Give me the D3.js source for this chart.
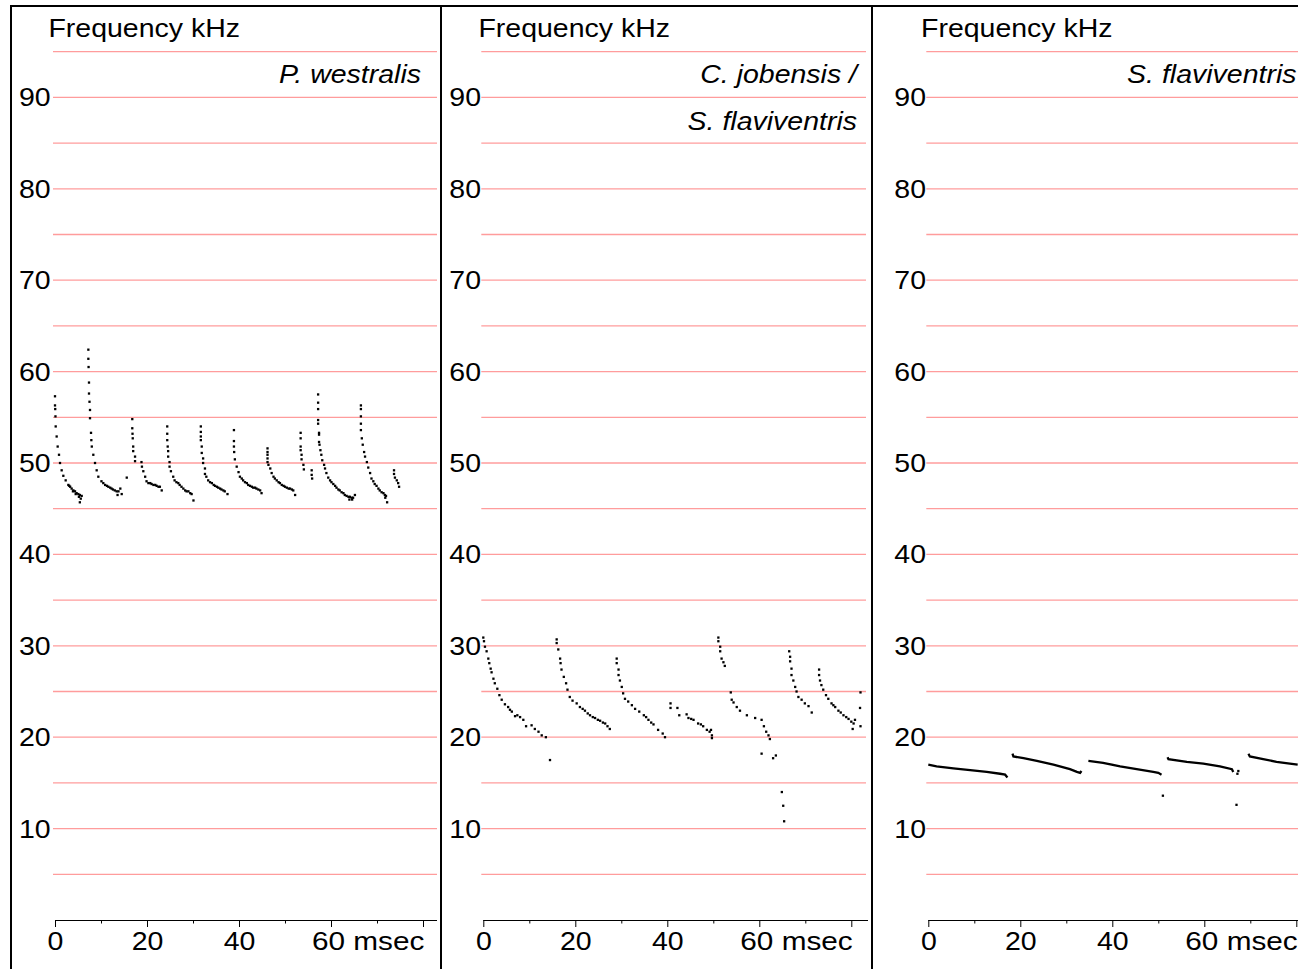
<!DOCTYPE html>
<html><head><meta charset="utf-8">
<script src="https://cdn.jsdelivr.net/npm/d3@7"></script>
<style>
html,body{margin:0;padding:0;background:#fff;}
svg{display:block;}
text{font-family:"Liberation Sans", Arial, sans-serif;fill:#000;}
</style></head><body>
<svg id="chart" width="1298" height="969"></svg>
<script>
// ---------------- DATA ----------------
const yAxisTitle = "Frequency kHz";
const yTickValues = [10, 20, 30, 40, 50, 60, 70, 80, 90];
const gridValues = [5, 10, 15, 20, 25, 30, 35, 40, 45, 50, 55, 60, 65, 70, 75, 80, 85, 90, 95];
const xMajorTicks = [0, 20, 40, 60, 80];
const xMinorTicks = [10, 30, 50, 70];
const xTickValues = [0, 20, 40, 60];
const xTickLabels = ["0", "20", "40", "60 msec"];
const panelSpecies = [["P. westralis"], ["C. jobensis /", "S. flaviventris"], ["S. flaviventris"]];

// [msec, kHz] — panel 1: P. westralis
const westralisCalls = [
  [[0.0,57.3],[0.0,56.3],[0.05,55.9],[0.1,55.1],[0.15,54.0],[0.36,52.9],[0.58,51.8],[0.87,50.9],[1.09,50.0],[1.45,49.2],[1.81,48.6],[2.32,48.1],[2.9,47.6],[3.1,47.5],[3.3,47.4],[3.62,47.2],[3.9,46.9],[4.0,47.0],[4.35,46.9],[4.5,46.6],[4.7,46.7],[5.07,46.6],[5.2,46.3],[5.4,46.5],[5.8,46.4],[5.4,45.7],[5.6,46.1]],
  [[7.25,62.4],[7.25,61.4],[7.3,60.5],[7.39,58.8],[7.39,57.6],[7.5,56.7],[7.61,55.8],[7.61,54.9],[7.83,53.3],[7.9,52.5],[8.0,51.8],[8.33,50.9],[8.7,50.0],[9.06,49.2],[9.42,48.5],[10.1,48.0],[10.5,47.8],[10.9,47.6],[11.3,47.5],[11.6,47.4],[12.0,47.3],[12.3,47.2],[12.6,47.1],[13.0,47.0],[13.4,46.9],[13.8,46.9],[14.2,47.2],[14.5,46.6],[13.6,46.5]],
  [[15.6,48.4]],
  [[16.8,54.8],[16.8,53.8],[16.85,53.2],[16.9,52.7],[17.0,51.8],[17.0,51.3],[17.4,50.7],[17.4,50.2],[18.8,50.1],[18.9,49.6],[19.2,49.1],[19.6,48.5],[19.9,48.0],[20.3,47.8],[20.7,47.8],[21.0,47.7],[21.4,47.6],[21.8,47.6],[22.1,47.5],[22.5,47.4],[22.8,47.4],[23.2,47.0]],
  [[24.4,54.0],[24.4,53.2],[24.4,52.5],[24.5,51.8],[24.6,51.3],[24.6,50.7],[24.9,50.1],[24.9,49.6],[25.2,49.1],[25.7,48.5],[26.0,48.1],[26.4,47.9],[26.8,47.8],[27.1,47.6],[27.5,47.4],[27.9,47.2],[28.3,47.0],[28.6,46.9],[29.0,46.9],[29.4,46.7],[29.7,46.6],[30.1,45.9]],
  [[31.7,54.0],[31.7,53.4],[31.7,52.9],[31.7,52.5],[31.9,51.8],[31.9,51.1],[32.2,50.5],[32.2,50.0],[32.6,49.4],[32.6,48.8],[32.9,48.5],[33.3,48.1],[33.7,47.9],[34.1,47.8],[34.5,47.6],[34.8,47.5],[35.2,47.4],[35.5,47.3],[35.9,47.2],[36.2,47.1],[36.6,47.0],[36.9,46.9],[37.5,46.6]],
  [[38.9,53.6],[38.9,52.4],[38.9,51.8],[38.95,51.2],[39.1,50.4],[39.5,49.6],[39.9,49.0],[40.2,48.5],[40.6,48.3],[40.9,48.1],[41.3,47.9],[41.7,47.8],[42.0,47.6],[42.4,47.5],[42.8,47.4],[43.1,47.3],[43.5,47.3],[43.8,47.2],[44.2,47.1],[44.6,47.0],[44.9,46.7]],
  [[46.2,51.6],[46.2,51.2],[46.2,50.9],[46.2,50.5],[46.2,50.1],[46.4,49.8],[46.8,49.4],[47.1,48.9],[47.5,48.5],[47.8,48.3],[48.2,48.1],[48.6,47.9],[48.9,47.8],[49.3,47.6],[49.7,47.5],[50.0,47.4],[50.4,47.3],[50.8,47.2],[51.1,47.2],[51.5,47.1],[51.8,47.0],[52.2,46.5]],
  [[53.4,53.3],[53.4,52.7],[53.4,51.8],[53.4,51.4],[53.6,50.9],[53.6,50.4],[54.0,49.8],[54.1,49.3],[55.8,49.2],[55.8,48.7],[55.9,48.3]],
  [[57.2,57.5],[57.2,56.6],[57.2,55.9],[57.2,54.7],[57.2,54.3],[57.4,53.3],[57.4,53.1],[57.4,52.3],[57.5,52.0],[57.7,51.4],[57.9,50.9],[58.1,50.3],[58.5,49.8],[58.7,49.4],[59.0,48.9],[59.4,48.4],[59.8,48.1],[60.1,47.9],[60.5,47.7],[60.9,47.5],[61.2,47.3],[61.6,47.1],[61.9,47.0],[62.3,46.8],[62.7,46.7],[63.0,46.5],[63.4,46.4],[63.8,46.3],[64.1,46.3],[64.5,46.2],[64.8,46.2],[65.2,46.5],[64.0,46.0],[64.6,46.0]],
  [[66.5,56.3],[66.5,55.9],[66.5,55.1],[66.5,54.3],[66.5,53.6],[66.7,52.7],[66.9,52.0],[67.2,51.2],[67.4,50.7],[67.8,50.1],[68.1,49.5],[68.5,48.9],[68.8,48.3],[69.2,48.0],[69.5,47.7],[69.9,47.5],[70.3,47.2],[70.6,47.0],[71.0,46.8],[71.4,46.7],[71.7,46.5],[71.96,46.4],[72.2,45.7],[71.8,46.2]],
  [[73.7,49.2],[73.7,48.8],[73.9,48.4],[74.3,48.1],[74.6,47.8],[74.8,47.4]]
];

// panel 2: C. jobensis / S. flaviventris
const jobensisCalls = [
  [[0.0,30.9],[0.15,30.5],[0.36,29.9],[0.72,29.4],[1.09,28.6],[1.3,28.1],[1.6,27.5],[1.8,27.1],[2.2,26.4],[2.5,25.9],[3.05,25.3],[3.5,24.6],[4.0,24.1],[4.7,23.6],[5.4,23.3],[5.8,23.0],[6.2,22.8],[6.9,22.3],[7.4,22.4],[8.0,22.2],[8.7,21.9],[9.3,21.2],[10.5,21.3],[11.2,20.9],[12.0,20.6],[12.7,20.2],[13.6,20.0],[14.5,17.5]],
  [[15.95,30.7],[15.95,30.3],[16.3,29.6],[16.7,28.6],[16.8,28.1],[17.0,27.4],[17.5,26.6],[18.0,25.9],[18.3,25.2],[18.8,24.4],[19.4,24.0],[20.3,23.7],[21.0,23.3],[21.6,23.1],[22.1,22.9],[22.7,22.6],[23.2,22.4],[23.8,22.2],[24.3,22.1],[24.9,21.9],[25.4,21.8],[26.0,21.6],[26.5,21.5],[27.0,21.2],[27.5,20.9]],
  [[29.0,28.6],[29.0,28.1],[29.4,27.4],[29.4,26.8],[29.7,26.2],[30.1,25.5],[30.4,24.8],[30.8,24.2],[31.5,23.9],[32.3,23.5],[33.0,23.1],[33.9,22.8],[34.9,22.4],[35.4,22.2],[35.9,21.9],[36.5,21.6],[37.0,21.4],[38.0,20.8],[39.0,20.4],[39.5,20.0]],
  [[40.7,23.7],[40.7,23.2],[42.2,23.2],[42.6,22.4],[44.2,22.5],[44.6,22.1],[45.2,22.0],[45.7,21.9],[46.7,21.5],[47.3,21.4],[47.8,21.2],[48.6,20.8],[49.2,20.6],[49.7,20.2],[49.7,19.9],[49.5,20.8]],
  [[51.1,30.9],[51.1,30.5],[51.5,29.9],[51.5,29.4],[51.8,28.6],[52.2,28.2],[52.5,27.8],[53.8,24.9],[54.0,24.1],[54.4,23.8],[55.1,23.3],[55.8,22.9],[57.3,22.4],[59.1,22.1],[60.5,21.9],[61.0,21.2],[61.5,20.6],[62.0,20.2],[62.3,19.8],[60.5,18.2],[63.0,17.7],[63.6,18.0],[64.9,14.0],[65.2,12.5],[65.4,10.8]],
  [[66.5,29.4],[66.7,28.8],[66.7,28.3],[67.0,27.5],[67.0,26.8],[67.4,26.2],[67.8,25.5],[68.1,25.0],[68.5,24.4],[69.2,24.1],[69.9,23.7],[70.7,23.4],[71.4,22.7]],
  [[73.0,27.4],[73.0,26.8],[73.2,26.2],[73.5,25.7],[73.9,25.2],[74.5,24.6],[75.0,24.2],[75.7,23.7],[76.1,23.5],[76.5,23.3],[77.2,22.9],[77.7,22.7],[78.3,22.4],[78.9,22.2],[79.4,22.0],[80.0,21.7],[80.5,21.5],[80.8,21.9],[80.3,20.9]],
  [[82.0,24.9],[81.9,23.2],[82.0,21.2]]
];

// panel 3: S. flaviventris (dense traces)
const flaviventrisCalls = [
  [[0.0,17.0],[1.8,16.8],[5.45,16.6],[9.1,16.4],[12.7,16.2],[15.6,16.0],[16.7,15.9],[17.2,15.6]],
  [[18.3,18.2],[18.5,17.9],[20.7,17.7],[23.6,17.4],[27.2,17.0],[30.8,16.5],[32.3,16.2],[33.0,16.1],[33.3,16.3]],
  [[34.8,17.4],[38.0,17.2],[41.7,16.8],[45.3,16.5],[48.9,16.2],[50.0,16.1],[50.7,15.9]],
  [[52.0,17.8],[52.2,17.6],[56.2,17.3],[59.8,17.1],[63.4,16.8],[66.0,16.5],[66.3,16.2]],
  [[69.6,18.2],[69.9,17.9],[72.8,17.6],[75.7,17.3],[78.6,17.1],[80.3,17.0]]
];
const flaviventrisDots = [[51.0,13.6],[67.4,16.3],[67.2,16.0],[67.0,12.6]];

// ---------------- LAYOUT ----------------
const svg = d3.select("#chart");
const pxPerKHz = 9.14, pxPerMs = 4.6, yZero = 920;
const y = d3.scaleLinear().domain([0, 95]).range([yZero, yZero - 95 * pxPerKHz]);
const TX = 1.14; // horizontal glyph stretch of the original rendering
const gridColor = "#ff9c9c";

const panels = [
  {frameX: 11,  x0: 55,    gridEnd: 437,  axisEnd: 437,  labelRight: 50.7,  titleX: 48.4,  speciesRight: 421,  dots: westralisCalls, lines: null},
  {frameX: 441, x0: 483.3, gridEnd: 866,  axisEnd: 868,  labelRight: 481,   titleX: 478.4, speciesRight: 857,  dots: jobensisCalls, lines: null},
  {frameX: 872, x0: 928.3, gridEnd: 1300, axisEnd: 1300, labelRight: 926,   titleX: 921,   speciesRight: 1296.5, dots: [flaviventrisDots], lines: flaviventrisCalls}
];

function addText(g, x, yy, str, anchor, italic, sx) {
  g.append("text")
    .attr("transform", `translate(${x},${yy}) scale(${sx || TX},1)`)
    .attr("text-anchor", anchor)
    .attr("font-size", 25)
    .attr("font-style", italic ? "italic" : "normal")
    .text(str);
}

panels.forEach((p, i) => {
  const g = svg.append("g");
  const x = d3.scaleLinear().domain([0, 80]).range([p.x0, p.x0 + 80 * pxPerMs]);

  // grid
  g.selectAll("line.grid").data(gridValues).join("line")
    .attr("x1", p.x0 - 2).attr("x2", p.gridEnd)
    .attr("y1", d => y(d)).attr("y2", d => y(d))
    .attr("stroke", gridColor).attr("stroke-width", 1.3);

  // y labels
  yTickValues.forEach(v => addText(g, p.labelRight, y(v) + 9, String(v), "end", false));

  // title
  addText(g, p.titleX, 36.5, yAxisTitle, "start", false);

  // species
  panelSpecies[i].forEach((s, k) => addText(g, p.speciesRight, 82.5 + k * 47, s, "end", true));

  // x axis line
  g.append("line").attr("x1", p.x0).attr("x2", p.axisEnd)
    .attr("y1", yZero + 0.5).attr("y2", yZero + 0.5)
    .attr("stroke", "#000").attr("stroke-width", 1);
  const major = g.append("g").attr("transform", `translate(0,${yZero})`)
    .call(d3.axisBottom(x).tickValues(xMajorTicks).tickSize(7).tickFormat(""));
  const minor = g.append("g").attr("transform", `translate(0,${yZero})`)
    .call(d3.axisBottom(x).tickValues(xMinorTicks).tickSize(3.5).tickFormat(""));
  [major, minor].forEach(a => { a.select(".domain").remove(); a.selectAll("line").attr("stroke", "#000"); });

  // x tick labels
  xTickValues.forEach((v, k) => {
    const lbl = xTickLabels[k];
    if (lbl.indexOf(" ") >= 0) addText(g, x(v) - 19, 950, lbl, "start", false, 1.19);
    else addText(g, x(v) + 0.5, 950, lbl, "middle", false);
  });

  // line traces
  if (p.lines) {
    const line = d3.line().x(d => x(d[0])).y(d => y(d[1]));
    g.selectAll("path.call").data(p.lines).join("path")
      .attr("d", line).attr("fill", "none")
      .attr("stroke", "#000").attr("stroke-width", 2.3);
  }
  // dots
  const pts = p.dots.flat();
  g.selectAll("rect.dot").data(pts).join("rect")
    .attr("x", d => x(d[0]) - 1.15).attr("y", d => y(d[1]) - 1.15)
    .attr("width", 2.3).attr("height", 2.3).attr("fill", "#000");
});

// frame and separators
svg.append("line").attr("x1", 10).attr("x2", 1298).attr("y1", 6).attr("y2", 6)
  .attr("stroke", "#000").attr("stroke-width", 2);
panels.forEach(p => {
  svg.append("line").attr("x1", p.frameX).attr("x2", p.frameX).attr("y1", 5).attr("y2", 969)
    .attr("stroke", "#000").attr("stroke-width", 2);
});
</script>
</body></html>
